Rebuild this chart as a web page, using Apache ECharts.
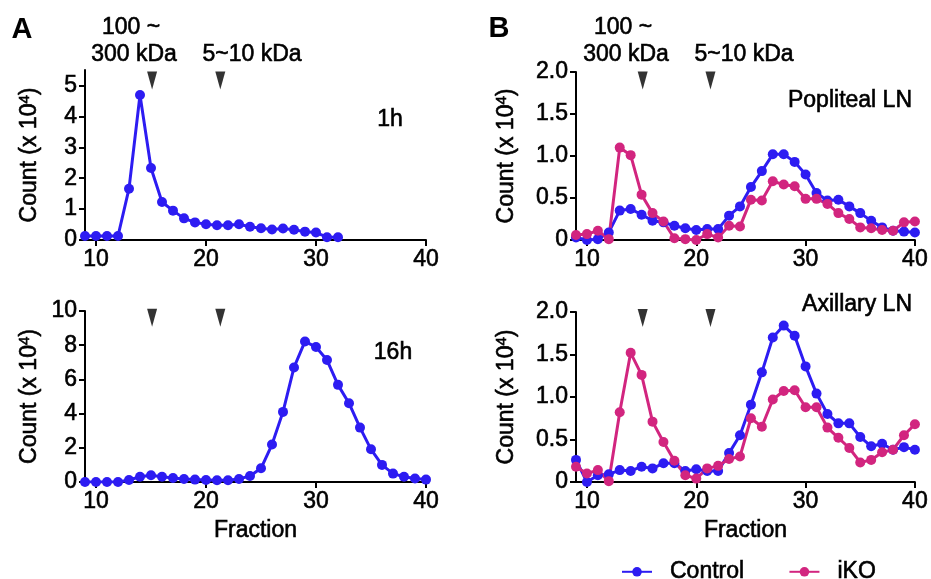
<!DOCTYPE html>
<html>
<head>
<meta charset="utf-8">
<script src="https://cdn.jsdelivr.net/npm/echarts@6/dist/echarts.min.js"></script>
<style>
  html, body { margin: 0; padding: 0; background: #fff; }
  #chart { width: 931px; height: 579px; }
</style>
</head>
<body>
<div id="chart"></div>
<script>
// fractions 9..40
const fractions = [];
for (let f = 9; f <= 40; f++) fractions.push(f);

// panel A, 1h (fractions 9..32)
const a1h = [0.13, 0.13, 0.13, 0.13, 1.66, 4.69, 2.33, 1.23, 0.95, 0.70, 0.57, 0.51,
  0.48, 0.48, 0.51, 0.43, 0.38, 0.34, 0.37, 0.33, 0.27, 0.24, 0.09, 0.09];
// panel A, 16h
const a16h = [0, 0, 0, 0, 0.12, 0.31, 0.39, 0.31, 0.23, 0.18, 0.14, 0.12, 0.10, 0.10,
  0.18, 0.35, 0.80, 2.19, 4.10, 6.70, 8.22, 7.89, 7.13, 5.68, 4.61, 3.18, 1.91, 1.00,
  0.49, 0.31, 0.20, 0.14];
// panel B, popliteal LN
const popControl = [0.03, 0, 0.01, 0.09, 0.35, 0.37, 0.30, 0.23, 0.21, 0.17, 0.14, 0.12,
  0.13, 0.13, 0.29, 0.40, 0.63, 0.82, 1.02, 1.02, 0.93, 0.78, 0.56, 0.47, 0.48, 0.40,
  0.32, 0.23, 0.15, 0.11, 0.10, 0.09];
const popIKO = [0.06, 0.07, 0.11, 0.01, 1.10, 1.01, 0.54, 0.32, 0.22, 0.02, 0.01, 0,
  0.07, 0.03, 0.17, 0.16, 0.48, 0.47, 0.70, 0.66, 0.64, 0.49, 0.49, 0.43, 0.32, 0.25,
  0.15, 0.14, 0.12, 0.11, 0.21, 0.22];
// panel B, axillary LN
const axControl = [0.26, 0, 0.08, 0.09, 0.14, 0.13, 0.18, 0.16, 0.22, 0.22, 0.13, 0.15,
  0.13, 0.13, 0.34, 0.55, 0.91, 1.29, 1.70, 1.84, 1.72, 1.36, 1.04, 0.80, 0.69, 0.69,
  0.53, 0.42, 0.45, 0.38, 0.41, 0.38];
const axIKO = [0.18, 0.10, 0.14, 0.01, 0.82, 1.52, 1.26, 0.71, 0.47, 0.25, 0.08, 0.04,
  0.16, 0.19, 0.27, 0.30, 0.75, 0.65, 0.97, 1.07, 1.08, 0.88, 0.88, 0.64, 0.52, 0.40,
  0.23, 0.26, 0.35, 0.38, 0.55, 0.68];

// size markers (arrowheads)
const markerFractions = [15.1, 21.3];
const xTicks = [10, 20, 30, 40];

const BLUE = '#2d1cf2';
const PINK = '#d2257f';
const FONT = '"Liberation Sans", Arial, sans-serif';
// slight outline to get the heavier look of the original lettering
const INK = { color: '#000', fontFamily: FONT, textBorderColor: '#000', textBorderWidth: 0.6 };

const pairs = (ys) => ys.map((y, i) => [fractions[i], y]);

const grids = [
  { left: 85, top: 70, width: 341, height: 170 },
  { left: 85, top: 311, width: 341, height: 171 },
  { left: 576, top: 72, width: 341, height: 168 },
  { left: 576, top: 312, width: 341, height: 170 }
];

const yCfg = [
  { max: 5.5, ticks: [0, 1, 2, 3, 4, 5], fmt: v => String(v) },
  { max: 10, ticks: [0, 2, 4, 6, 8, 10], fmt: v => String(v) },
  { max: 2, ticks: [0, 0.5, 1, 1.5, 2], fmt: v => v === 0 ? '0' : v.toFixed(1) },
  { max: 2, ticks: [0, 0.5, 1, 1.5, 2], fmt: v => v === 0 ? '0' : v.toFixed(1) }
];
const arrowY = [5.16, 9.6, 1.9, 1.93];

const axisLine = { show: true, onZero: false, lineStyle: { color: '#000', width: 2 } };
const axisTick = { show: true, inside: false, length: 6, lineStyle: { color: '#000', width: 2 } };

const xAxis = grids.map((g, i) => ({
  type: 'value', gridIndex: i, min: 9, max: 40,
  axisLine: axisLine,
  axisTick: Object.assign({ customValues: xTicks }, axisTick),
  axisLabel: Object.assign({ customValues: xTicks, fontSize: 23, margin: 8 }, INK),
  splitLine: { show: false },
  name: i % 2 === 1 ? 'Fraction' : '',
  nameLocation: 'middle', nameGap: 37,
  nameTextStyle: Object.assign({ fontSize: 23 }, INK)
}));

const yAxis = yCfg.map((c, i) => ({
  type: 'value', gridIndex: i, min: 0, max: c.max,
  axisLine: axisLine,
  axisTick: Object.assign({ customValues: c.ticks }, axisTick),
  axisLabel: Object.assign({ customValues: c.ticks, formatter: c.fmt, fontSize: 23, margin: 8 }, INK),
  splitLine: { show: false },
  name: '{a|Count (x 10}{s|4}{a|)}',
  nameLocation: 'middle', nameGap: i < 2 ? 43 : 57,
  nameTextStyle: {
    rich: {
      a: Object.assign({ fontSize: 23 }, INK),
      s: Object.assign({ fontSize: 15, verticalAlign: 'top', padding: [0, 0, 10, 0] }, INK)
    }
  }
}));

function lineSeries(name, data, color, idx) {
  return {
    name: name, type: 'line', xAxisIndex: idx, yAxisIndex: idx,
    data: pairs(data), symbol: 'circle', symbolSize: 10,
    lineStyle: { color: color, width: 3 },
    itemStyle: { color: color },
    emphasis: { disabled: true }, animation: false
  };
}

const series = [
  lineSeries('Control', a1h, BLUE, 0),
  lineSeries('Control', a16h, BLUE, 1),
  lineSeries('Control', popControl, BLUE, 2),
  lineSeries('iKO', popIKO, PINK, 2),
  lineSeries('Control', axControl, BLUE, 3),
  lineSeries('iKO', axIKO, PINK, 3)
];
arrowY.forEach((y, i) => {
  series.push({
    type: 'scatter', xAxisIndex: i, yAxisIndex: i,
    data: markerFractions.map(f => [f, y]),
    symbol: 'triangle', symbolRotate: 180, symbolSize: [10, 18],
    itemStyle: { color: '#000' }, silent: true, animation: false
  });
});

function txt(x, y, text, opts) {
  return {
    type: 'text', x: x, y: y,
    style: Object.assign({
      text: text, fill: '#000', font: '23px ' + FONT,
      stroke: '#000', lineWidth: 0.6,
      textAlign: 'center', textVerticalAlign: 'middle'
    }, opts || {})
  };
}

const graphics = [
  txt(22, 30, 'A', { font: 'bold 29px ' + FONT, lineWidth: 0 }),
  txt(499, 29, 'B', { font: 'bold 29px ' + FONT, lineWidth: 0 }),
  txt(131, 28, '100 ~'), txt(134, 55, '300 kDa'), txt(252, 55, '5~10 kDa'),
  txt(623, 28, '100 ~'), txt(626, 55, '300 kDa'), txt(744, 55, '5~10 kDa'),
  txt(390, 120, '1h'), txt(393, 353, '16h'),
  txt(912, 101, 'Popliteal LN', { textAlign: 'right' }),
  txt(912, 305, 'Axillary LN', { textAlign: 'right' })
];

const chart = echarts.init(document.getElementById('chart'));
chart.setOption({
  animation: false,
  grid: grids,
  xAxis: xAxis,
  yAxis: yAxis,
  series: series,
  graphic: graphics,
  legend: {
    data: ['Control', 'iKO'],
    left: 616, top: 555,
    itemWidth: 30, itemHeight: 12, itemGap: 44,
    textStyle: Object.assign({ fontSize: 23, padding: [0, 0, 0, 13] }, INK)
  }
});
</script>
</body>
</html>
